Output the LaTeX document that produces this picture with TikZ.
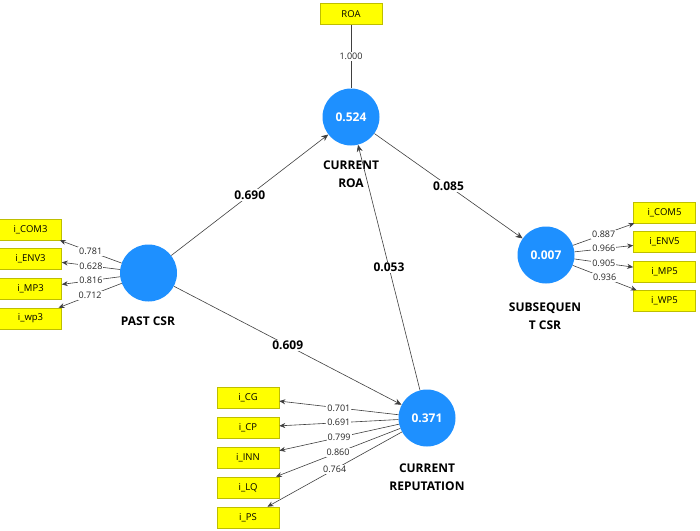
\documentclass[tikz,border=0pt]{standalone}
\usepackage{fontspec}
\setmainfont{Open Sans}
\usetikzlibrary{arrows.meta}
\definecolor{lvblue}{RGB}{30,144,255}
\definecolor{mvyellow}{RGB}{255,255,0}
\definecolor{mvborder}{RGB}{190,190,0}
\definecolor{linegray}{RGB}{64,64,64}
\begin{document}
\begin{tikzpicture}[x=1pt,y=-1pt,
  latent/.style={circle,fill=lvblue,draw=none,minimum size=57pt,inner sep=0pt,text=white,font=\fontsize{12}{14}\selectfont\bfseries},
  manifest/.style={rectangle,fill=mvyellow,draw=mvborder,line width=0.6pt,minimum width=62pt,minimum height=21pt,inner sep=0pt,font=\fontsize{9.5}{10}\selectfont},
  cname/.style={align=center,font=\fontsize{12}{17.5}\selectfont\bfseries},
  ind/.style={draw=linegray,line width=0.6pt,-{Stealth[length=6pt,width=5pt]}},
  path/.style={draw=linegray,line width=0.6pt,-{Stealth[length=7pt,width=6pt]}},
  wl/.style={fill=white,inner sep=1pt,font=\fontsize{9}{9}\selectfont,text=black!85},
  pl/.style={fill=white,inner sep=1.5pt,font=\fontsize{12}{14}\selectfont\bfseries}]
\useasboundingbox (0,0) rectangle (700,530);
\fill[white] (0,0) rectangle (700,530);
% latent variables
\node[latent] (past) at (148.5,273) {};
\node[latent] (roa) at (351,117) {0.524};
\node[latent] (sub) at (546,255) {0.007};
\node[latent] (rep) at (427,418) {0.371};
% construct names
\node[cname] (pastname) at (148,321) {PAST CSR};
\node[cname] (roaname) at (351,174) {CURRENT\\ROA};
\node[cname] (subname) at (545,316) {SUBSEQUEN\\T CSR};
\node[cname] (repname) at (427,477) {CURRENT\\REPUTATION};
% indicators
\node[manifest] (roaind) at (351,14) {ROA};
\node[manifest] (com3) at (30.5,229.5) {i\_COM3};
\node[manifest] (env3) at (30.5,258.5) {i\_ENV3};
\node[manifest] (mp3) at (30.5,288.5) {i\_MP3};
\node[manifest] (wp3) at (30.5,318.5) {i\_wp3};
\node[manifest] (com5) at (664.5,212.5) {i\_COM5};
\node[manifest] (env5) at (664.5,242) {i\_ENV5};
\node[manifest] (mp5) at (664.5,271.5) {i\_MP5};
\node[manifest] (wp5) at (664.5,301) {i\_WP5};
\node[manifest] (cg) at (248,397.5) {i\_CG};
\node[manifest] (cp) at (248,427.5) {i\_CP};
\node[manifest] (inn) at (248,457.5) {i\_INN};
\node[manifest] (lq) at (248,487.5) {i\_LQ};
\node[manifest] (ps) at (248,517.5) {i\_PS};
% outer loadings
\draw[draw=linegray,line width=0.6pt] (roaind) -- node[wl] {1.000} (roa);
\draw[ind] (past) -- node[wl] {0.781} (com3);
\draw[ind] (past) -- node[wl] {0.628} (env3);
\draw[ind] (past) -- node[wl] {0.816} (mp3);
\draw[ind] (past) -- node[wl] {0.712} (wp3);
\draw[ind] (sub) -- node[wl] {0.887} (com5);
\draw[ind] (sub) -- node[wl] {0.966} (env5);
\draw[ind] (sub) -- node[wl] {0.905} (mp5);
\draw[ind] (sub) -- node[wl] {0.936} (wp5);
\draw[ind] (rep) -- node[wl] {0.701} (cg);
\draw[ind] (rep) -- node[wl] {0.691} (cp);
\draw[ind] (rep) -- node[wl] {0.799} (inn);
\draw[ind] (rep) -- node[wl] {0.860} (lq);
\draw[ind] (rep) -- node[wl] {0.764} (ps);
% structural paths
\draw[path] (past) -- node[pl] {0.690} (roa);
\draw[path] (roa) -- node[pl] {0.085} (sub);
\draw[path] (past) -- node[pl] {0.609} (rep);
\draw[path] (rep) -- node[pl] {0.053} (roa);
\end{tikzpicture}
\end{document}
